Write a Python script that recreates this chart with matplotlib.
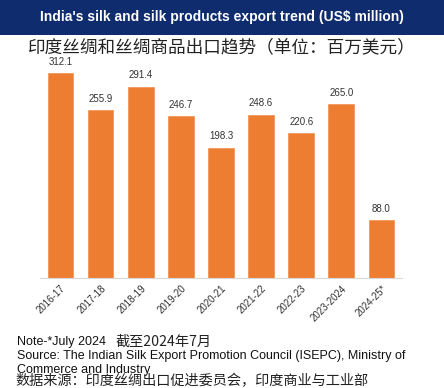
import matplotlib
matplotlib.use("Agg")
import matplotlib.pyplot as plt
from matplotlib.patches import Rectangle

categories = ["2016-17", "2017-18", "2018-19", "2019-20", "2020-21",
              "2021-22", "2022-23", "2023-2024", "2024-25*"]
values = [312.1, 255.9, 291.4, 246.7, 198.3, 248.6, 220.6, 265.0, 88.0]

title_en = "India's silk and silk products export trend (US$ million)"
title_cn = "印度丝绸和丝绸商品出口趋势（单位：百万美元）"
note_en = "Note-*July 2024"
note_cn = "截至2024年7月"
source_en1 = "Source: The Indian Silk Export Promotion Council (ISEPC), Ministry of"
source_en2 = "Commerce and Industry"
source_cn = "数据来源：印度丝绸出口促进委员会，印度商业与工业部"

EN = ["Liberation Sans", "DejaVu Sans"]
CN = ["Noto Sans CJK SC", "DejaVu Sans"]

W, H = 444, 388
fig = plt.figure(figsize=(W / 100, H / 100), dpi=100)
fig.patch.set_facecolor("white")

def fx(px):
    return px / W

def fy(py):
    return 1 - py / H

# header band
fig.patches.append(Rectangle((0, fy(35)), 1, 35 / H, transform=fig.transFigure,
                             facecolor="#0E2C6E", edgecolor="none", zorder=0))
fig.text(0.5, fy(17), title_en, color="white", fontsize=10, fontweight="bold",
         family=EN, ha="center", va="center")
fig.text(0.5, fy(47), title_cn, color="#222222", fontsize=12.7,
         family=CN, ha="center", va="center")

ax = fig.add_axes([fx(40.4), fy(277.7), fx(401.5) - fx(40.4), fy(60) - fy(277.7)])
x = list(range(len(categories)))
bars = ax.bar(x, values, width=0.64, color="#ED7D31", edgecolor="#F09050", linewidth=0.5)
ax.set_xlim(-0.5, len(categories) - 0.5)
ax.set_ylim(0, 332)
for xi, v in zip(x, values):
    ax.annotate(f"{v:.1f}", (xi, v), xytext=(0, 4.5), textcoords="offset points",
                ha="center", va="bottom", fontsize=7, color="#333333", family=EN)
ax.set_xticks(x)
ax.set_xticklabels(categories, rotation=45, ha="right", rotation_mode="anchor",
                   fontsize=7, color="#333333", family=EN)
ax.tick_params(axis="x", length=0, pad=4)
ax.set_yticks([])
for s in ["top", "right", "left"]:
    ax.spines[s].set_visible(False)
ax.spines["bottom"].set_color("#D9D9D9")
ax.spines["bottom"].set_linewidth(0.8)

fig.text(fx(17), fy(342), note_en, fontsize=9, color="#111111", family=EN,
         ha="left", va="center")
fig.text(fx(115), fy(342), note_cn, fontsize=10.2, color="#222222", family=CN,
         ha="left", va="center")
fig.text(fx(17), fy(356), source_en1, fontsize=9, color="#111111", family=EN,
         ha="left", va="center")
fig.text(fx(17), fy(370), source_en2, fontsize=9, color="#111111", family=EN,
         ha="left", va="center")
fig.text(fx(15), fy(381), source_cn, fontsize=10.2, color="#222222", family=CN,
         ha="left", va="center")

fig.savefig("out.png", dpi=100)
